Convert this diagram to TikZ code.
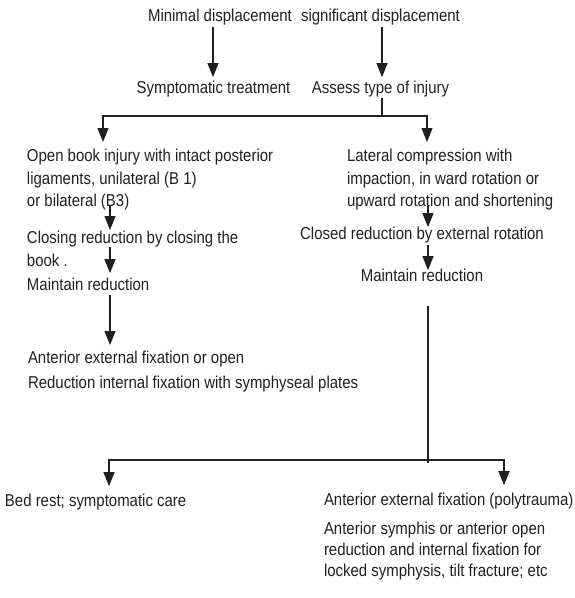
\documentclass[tikz,border=0pt]{standalone}
\usepackage{fontspec}
\setmainfont{Liberation Sans}[FakeStretch=0.87]
\usetikzlibrary{arrows.meta,calc}
\definecolor{ink}{RGB}{35,31,32}
\begin{document}
\begin{tikzpicture}[x=1pt,y=-1pt,
  txt/.style={inner sep=0pt, outer sep=0pt, text=ink, font=\fontsize{17.2}{22.5}\selectfont},
  blk/.style={txt, align=left, anchor=north west},
  line/.style={draw=ink, line width=1.1pt},
  arr/.style={line, -{Triangle[length=14pt,width=11pt]}}]
\useasboundingbox (0,0) rectangle (575,598);
% nodes
\node[txt, anchor=base] (min) at (220,21) {Minimal displacement};
\node[txt, anchor=base] (sig) at (380.5,21) {significant displacement};
\node[txt, anchor=base] (symp) at (213.5,93) {Symptomatic treatment};
\node[txt, anchor=base] (assess) at (380.5,93) {Assess type of injury};
\node[blk] (ob) at (27,149.4) {Open book injury with intact posterior\\ligaments, unilateral (B 1)\\or bilateral (B3)};
\node[blk] (lc) at (347,149.4) {Lateral compression with\\impaction, in ward rotation or\\upward rotation and shortening};
\node[blk] (close) at (27,231.4) {Closing reduction by closing the\\book .};
\node[txt, anchor=base west] (m1) at (27,290) {Maintain reduction};
\node[txt, anchor=base] (cr) at (422,239) {Closed reduction by external rotation};
\node[txt, anchor=base] (m2) at (422,281) {Maintain reduction};
\node[blk] (fix) at (28,350.9) {Anterior external fixation or open\\[3pt]Reduction internal fixation with symphyseal plates};
\node[txt, anchor=base west] (bed) at (5,506) {Bed rest; symptomatic care};
\node[txt, anchor=base west] (aef) at (324,505) {Anterior external fixation (polytrauma)};
\node[blk, font=\fontsize{17.2}{21}\selectfont] (asym) at (324,522.4) {Anterior symphis or anterior open\\reduction and internal fixation for\\locked symphysis, tilt fracture; etc};
% coordinates
\coordinate (ax) at (213,0);
\coordinate (jt) at (382,116);
\coordinate (L1) at (103,0);
\coordinate (R1) at (427,0);
\coordinate (lx) at (110,0);
\coordinate (rx) at (428,0);
\coordinate (jb) at (428,460);
\coordinate (jbe) at (428,463);
\coordinate (L2) at (109,0);
\coordinate (R2) at (504,0);
% connectors
\draw[arr, shorten <=2.4pt, shorten >=3.4pt] (min.south -| ax) -- (symp.north -| ax);
\draw[arr, shorten <=2.4pt, shorten >=3.4pt] (sig.south -| jt) -- (assess.north -| jt);
\draw[line, shorten <=1.4pt] (assess.south -| jt) -- (jt);
\draw[arr, shorten >=7.4pt] (jt) -| (ob.north -| L1);
\draw[arr, shorten >=7.4pt] (jt) -| (lc.north -| R1);
\draw[arr, shorten <=55.6pt, shorten >=1.4pt] (ob.north -| lx) -- (close.north -| lx);
\draw[arr, shorten <=15.6pt, shorten >=4.4pt] (close.north -| lx) -- (m1.north -| lx);
\draw[arr, shorten <=5pt, shorten >=5.9pt] (m1.south -| lx) -- (fix.north -| lx);
\draw[arr, shorten <=55.6pt, shorten >=-0.6pt] (lc.north -| rx) -- (cr.north -| rx);
\draw[arr, shorten <=2.4pt, shorten >=-1.6pt] (cr.south -| rx) -- (m2.north -| rx);
\draw[line, shorten <=25pt] (m2.south -| rx) -- (jbe);
\draw[arr, shorten >=7.4pt] (jb) -| (bed.north -| L2);
\draw[arr, shorten >=7.4pt] (jb) -| (aef.north -| R2);
\end{tikzpicture}
\end{document}
